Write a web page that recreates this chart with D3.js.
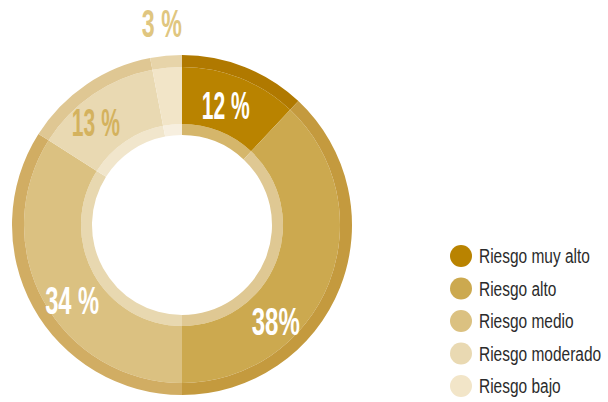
<!DOCTYPE html>
<html>
<head>
<meta charset="utf-8">
<script src="https://cdn.jsdelivr.net/npm/d3@7"></script>
<style>
  html, body { margin: 0; padding: 0; background: #fff; }
  svg { display: block; }
</style>
</head>
<body>
<svg id="chart" width="608" height="402"></svg>
<script>
// Risk level distribution
const categories = ["Riesgo muy alto", "Riesgo alto", "Riesgo medio", "Riesgo moderado", "Riesgo bajo"];
const values = [12, 38, 34, 13, 3];
const labelSeparators = [" ", "", " ", " ", " "];

// Per-slice palette: main band, outer rim, inner rim
const mainColors  = ["#b98300", "#cca94f", "#dbc181", "#e9d9b2", "#f2e5c8"];
const outerColors = ["#b07900", "#c49a3e", "#d1ad63", "#dfc793", "#e7d4a9"];
const innerColors = ["#d5b66b", "#dfc893", "#e8d8b0", "#f1e6cc", "#f7efdf"];
const labelColors = ["#ffffff", "#ffffff", "#ffffff", "#d4b25e", "#e0c680"];

const svg = d3.select("#chart");
const cx = 182, cy = 225;
const rHole = 90, rInner = 101, rMain = 158, rOuter = 170;

const pie = d3.pie().sort(null).value(d => d)(values);

const g = svg.append("g").attr("transform", `translate(${cx},${cy})`);

const bands = [
  { r0: rHole, r1: rInner, colors: innerColors },
  { r0: rInner, r1: rMain, colors: mainColors },
  { r0: rMain, r1: rOuter, colors: outerColors }
];

bands.forEach(b => {
  const arc = d3.arc().innerRadius(b.r0).outerRadius(b.r1);
  g.append("g").selectAll("path")
    .data(pie)
    .join("path")
    .attr("d", arc)
    .attr("fill", (d, i) => b.colors[i]);
});

// Label placement: angle (deg from top, clockwise), radius, text width
const labelPlace = [
  { a: 20, r: 128, w: 48 },
  { a: 135.6, r: 134, w: 48 },
  { a: 235.7, r: 133, w: 54 },
  { a: 320, r: 134, w: 48 },
  { a: 354.3, r: 203, w: 40 }
];

g.selectAll("text.val")
  .data(pie)
  .join("text")
  .attr("class", "val")
  .each(function(d, i) {
    const p = labelPlace[i];
    const ang = p.a * Math.PI / 180;
    const x = p.r * Math.sin(ang);
    const y = -p.r * Math.cos(ang);
    d3.select(this)
      .attr("x", x)
      .attr("y", y + 14)
      .attr("text-anchor", "middle")
      .attr("textLength", p.w)
      .attr("lengthAdjust", "spacingAndGlyphs");
  })
  .attr("font-family", "'Liberation Sans', sans-serif")
  .attr("font-weight", "bold")
  .attr("font-size", 39)
  .attr("fill", (d, i) => labelColors[i])
  .text((d, i) => `${values[i]}${labelSeparators[i]}%`);

// Legend
const legendY = d3.scalePoint().domain(categories).range([256, 386]);
const legend = svg.append("g");
legend.selectAll("circle")
  .data(categories)
  .join("circle")
  .attr("cx", 461)
  .attr("cy", d => legendY(d))
  .attr("r", 11)
  .attr("fill", (d, i) => mainColors[i]);

const legendText = legend.selectAll("text")
  .data(categories)
  .join("text")
  .attr("font-family", "'Liberation Sans', sans-serif")
  .attr("font-size", 21)
  .attr("fill", "#2b2b2b")
  .text(d => d);

// Condense the legend type so the longest entry spans its column
const firstLen = legendText.node().getComputedTextLength();
const squeeze = 111 / firstLen;
legendText.attr("transform", d => `translate(479,${legendY(d) + 7}) scale(${squeeze},1)`);
</script>
</body>
</html>
